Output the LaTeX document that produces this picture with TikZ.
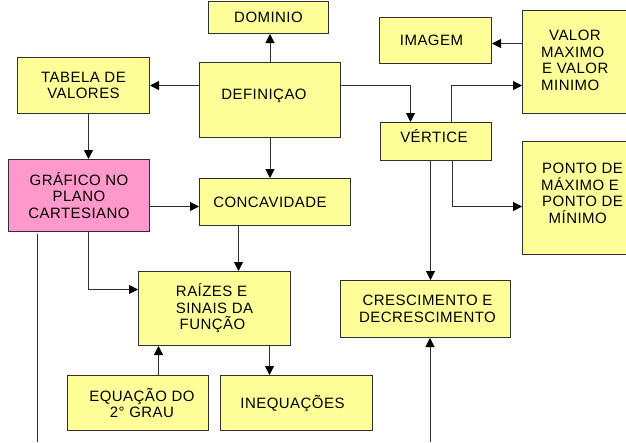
\documentclass[tikz,border=0pt]{standalone}
\usepackage{fontspec}
\newfontfamily\dfont[LetterSpace=3]{Liberation Sans}
\usetikzlibrary{arrows.meta}
\definecolor{yel}{HTML}{FFFF99}
\definecolor{pnk}{HTML}{FF99CC}
\definecolor{edge}{HTML}{303030}
\begin{document}
\begin{tikzpicture}[x=1pt,y=-1pt,
  box/.style={draw=edge, line width=1pt, fill=yel, anchor=north west, inner sep=0pt, align=center, font=\dfont\fontsize{15}{16.5}\selectfont},
  txt/.style={inner sep=0pt, anchor=west, align=left, font=\dfont\fontsize{15}{16.5}\selectfont},
  arr/.style={draw=edge, line width=1pt, -{Triangle[length=9pt,width=9pt,color=black]}},
  ln/.style={draw=edge, line width=1pt}]
\clip (0,0) rectangle (626,442);
\fill[white] (0,0) rectangle (626,442);
% boxes
\node[box, minimum width=120pt, minimum height=32pt] (dom) at (208,1) {DOMINIO};
\node[box, minimum width=132pt, minimum height=56pt] (tab) at (17,57) {TABELA DE\\VALORES};
\node[box, minimum width=141pt, minimum height=75pt] (def) at (199,62) {DEFINIÇAO\hspace*{12pt}\\[-5pt]\mbox{}};
\node[box, minimum width=112pt, minimum height=46pt] (img) at (379,17) {IMAGEM\hspace*{8pt}};
\node[box, minimum width=170pt, minimum height=103pt] (val) at (522,10) {};
\node[txt] (valt) at ([xshift=19pt,yshift=1.5pt]val.west) {\hspace*{8pt}VALOR\\MAXIMO\\\hspace*{1pt}E VALOR\\MINIMO};
\node[box, minimum width=111pt, minimum height=38pt] (ver) at (380,122) {VÉRTICE\hspace*{4pt}\\[-6pt]\mbox{}};
\node[box, minimum width=170pt, minimum height=113pt] (pon) at (522,141) {};
\node[txt] (pont) at ([xshift=19pt,yshift=4.5pt]pon.west) {\hspace*{1pt}PONTO DE\\MÁXIMO E\\\hspace*{1pt}PONTO DE\\\hspace*{7.5pt}MÍNIMO};
\node[box, fill=pnk, minimum width=141pt, minimum height=72pt] (gra) at (8,159) {GRÁFICO NO\\PLANO\\CARTESIANO};
\node[box, minimum width=151pt, minimum height=47pt] (con) at (199,178) {CONCAVIDADE\hspace*{10pt}};
\node[box, minimum width=152pt, minimum height=74pt] (rai) at (138,271) {RAÍZES E\hspace*{6pt}\\SINAIS DA\hspace*{14pt}\\FUNÇÃO\hspace*{4pt}};
\node[box, minimum width=141pt, minimum height=55pt] (equ) at (67,375) {\hspace*{8pt}EQUAÇÃO DO\\\hspace*{8pt}2° GRAU};
\node[box, minimum width=152pt, minimum height=55pt] (ine) at (220,375) {INEQUAÇÕES\hspace*{8pt}};
\node[box, minimum width=170pt, minimum height=57pt] (cre) at (340,280) {\hspace*{4pt}CRESCIMENTO E\\\hspace*{4pt}DECRESCIMENTO};
% free ends
\coordinate (b1) at (37,442);
\coordinate (b2) at (430,442);
\coordinate (imge) at ([yshift=-3pt]img.east);
% connectors
\draw[arr] (def.north) -- (def.north |- dom.south);
\draw[arr] (def.west |- tab.east) -- (tab.east);
\draw[arr] ([xshift=5pt]tab.south) -- ([xshift=5pt]tab.south |- gra.north);
\draw[arr] (def.east |- tab.east) -| ([xshift=-25.5pt]ver.north);
\draw[arr] (val.west |- imge) -- (imge);
\draw[arr] ([xshift=15.5pt]ver.north) |- (val.west |- tab.east);
\draw[arr] ([xshift=16.5pt]ver.south) |- ([yshift=-8.5pt]pon.west);
\draw[arr] ([xshift=5pt]cre.north |- ver.south) -- ([xshift=5pt]cre.north);
\draw[arr] (b2) -- (b2 |- cre.south);
\draw[arr] ([yshift=-4.5pt]con.west -| gra.east) -- ([yshift=-4.5pt]con.west);
\draw[arr] (def.south) -- (def.south |- con.north);
\draw[arr] ([xshift=-36.5pt]con.south) -- ([xshift=-36.5pt]con.south |- rai.north);
\draw[arr] ([xshift=9.5pt]gra.south) |- ([yshift=19pt]rai.west);
\draw[arr] ([xshift=20.5pt]equ.north) -- ([xshift=20.5pt]equ.north |- rai.south);
\draw[arr] ([xshift=55pt]rai.south) -- ([xshift=55pt]rai.south |- ine.north);
\draw[ln] ([yshift=-2pt]b1 |- gra.south) -- (b1);
\end{tikzpicture}
\end{document}
